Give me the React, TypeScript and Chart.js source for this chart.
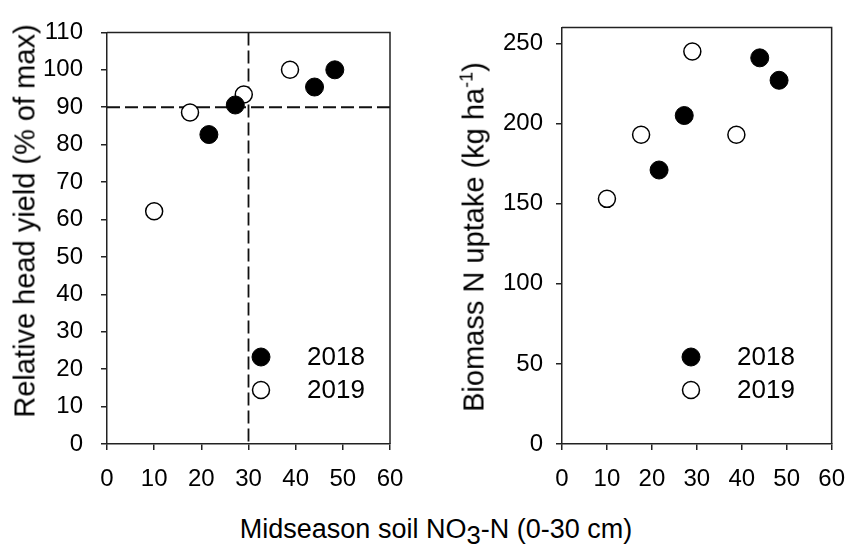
import React, { useEffect, useRef } from "react";
import { Chart, registerables } from "chart.js";

Chart.register(...registerables);

// ---- data ----
const years = ["2018", "2019"];
const soilN2018 = [21.6, 27.2, 44.0, 48.3];
const yield2018 = [82.7, 90.6, 95.4, 100];
const uptake2018 = [171, 205, 241, 227];
const soilN2019 = [10.0, 17.6, 29.0, 38.8];
const yield2019 = [62.2, 88.6, 93.4, 100];
const uptake2019 = [153, 193, 245, 193];

const xTicks = [0, 10, 20, 30, 40, 50, 60];
const yieldTicks = [0, 10, 20, 30, 40, 50, 60, 70, 80, 90, 100, 110];
const uptakeTicks = [0, 50, 100, 150, 200, 250];
const yieldThresholdX = 30;
const yieldThresholdY = 90;

const FONT = "'Liberation Sans', Arial, Helvetica, sans-serif";
const AXIS = "#222";

Chart.defaults.font.family = FONT;
Chart.defaults.color = "#000";

const toPoints = (xs: number[], ys: number[]) => xs.map((x, i) => ({ x, y: ys[i] }));

const extras = {
  id: "extras",
  beforeDatasetsDraw(chart: any, _args: any, opts: any) {
    const { ctx, chartArea: a, scales } = chart;
    ctx.save();
    ctx.strokeStyle = "#111";
    ctx.lineWidth = 1.8;
    ctx.setLineDash([13, 5]);
    if (opts.refX != null) {
      const px = scales.x.getPixelForValue(opts.refX);
      ctx.beginPath();
      ctx.moveTo(px, a.top);
      ctx.lineTo(px, a.bottom);
      ctx.stroke();
    }
    if (opts.refY != null) {
      const py = scales.y.getPixelForValue(opts.refY);
      ctx.beginPath();
      ctx.moveTo(a.left, py);
      ctx.lineTo(a.right, py);
      ctx.stroke();
    }
    ctx.setLineDash([]);
    ctx.strokeStyle = AXIS;
    ctx.lineWidth = 1.5;
    ctx.beginPath();
    ctx.moveTo(a.left, a.top);
    ctx.lineTo(a.right, a.top);
    ctx.lineTo(a.right, a.bottom);
    ctx.stroke();
    ctx.restore();
  },
  afterDraw(chart: any, _args: any, opts: any) {
    const { ctx, chartArea: a } = chart;
    ctx.save();
    const cx = a.left + opts.legendDx;
    const rows = [a.bottom - 87, a.bottom - 54];
    chart.data.datasets.forEach((ds: any, i: number) => {
      const cy = rows[i];
      ctx.beginPath();
      ctx.arc(cx, cy, ds.pointRadius, 0, Math.PI * 2);
      ctx.fillStyle = ds.backgroundColor;
      ctx.fill();
      ctx.lineWidth = ds.borderWidth;
      ctx.strokeStyle = ds.borderColor;
      ctx.stroke();
      ctx.fillStyle = "#000";
      ctx.font = `26px ${FONT}`;
      ctx.textBaseline = "middle";
      ctx.textAlign = "left";
      ctx.fillText(ds.label, cx + 46, cy + 1);
    });
    ctx.restore();
  },
};

function makeConfig(
  y2018: number[],
  y2019: number[],
  yTicks: number[],
  yMax: number,
  yAxisWidth: number,
  yPad: number,
  rightPad: number,
  legendDx: number,
  refX: number | null,
  refY: number | null
): any {
  const tickFont = { size: 24, family: FONT };
  return {
    type: "scatter",
    data: {
      datasets: [
        {
          label: years[0],
          data: toPoints(soilN2018, y2018),
          backgroundColor: "#000",
          borderColor: "#000",
          borderWidth: 1,
          pointRadius: 9,
          pointHoverRadius: 9,
        },
        {
          label: years[1],
          data: toPoints(soilN2019, y2019),
          backgroundColor: "#fff",
          borderColor: "#000",
          borderWidth: 1.5,
          pointRadius: 8.5,
          pointHoverRadius: 8.5,
        },
      ],
    },
    options: {
      animation: false,
      responsive: false,
      events: [],
      layout: { padding: { left: 0, top: 20, right: rightPad, bottom: 0 } },
      plugins: {
        legend: { display: false },
        tooltip: { enabled: false },
        extras: { legendDx, refX, refY },
      },
      scales: {
        x: {
          type: "linear",
          min: 0,
          max: 60,
          afterBuildTicks: (s: any) => {
            s.ticks = xTicks.map((v) => ({ value: v }));
          },
          afterFit: (s: any) => {
            s.height = 66;
          },
          ticks: { font: tickFont, color: "#000", padding: 15, maxRotation: 0 },
          grid: { drawOnChartArea: false, drawTicks: true, tickLength: 6, color: AXIS, lineWidth: 1.5 },
          border: { display: true, color: AXIS, width: 1.5 },
        },
        y: {
          type: "linear",
          min: 0,
          max: yMax,
          afterBuildTicks: (s: any) => {
            s.ticks = yTicks.map((v) => ({ value: v }));
          },
          afterFit: (s: any) => {
            s.width = yAxisWidth;
          },
          ticks: { font: tickFont, color: "#000", padding: yPad },
          grid: { drawOnChartArea: false, drawTicks: true, tickLength: 6, color: AXIS, lineWidth: 1.5 },
          border: { display: true, color: AXIS, width: 1.5 },
        },
      },
    },
    plugins: [extras],
  };
}

export default function App() {
  const leftRef = useRef<HTMLCanvasElement>(null);
  const rightRef = useRef<HTMLCanvasElement>(null);

  useEffect(() => {
    const c1 = new Chart(
      leftRef.current as HTMLCanvasElement,
      makeConfig(yield2018, yield2019, yieldTicks, 110, 107, 18, 40, 154, yieldThresholdX, yieldThresholdY)
    );
    const c2 = new Chart(
      rightRef.current as HTMLCanvasElement,
      makeConfig(uptake2018, uptake2019, uptakeTicks, 260, 122, 13, 17, 129, null, null)
    );
    return () => {
      c1.destroy();
      c2.destroy();
    };
  }, []);

  const titleBase: React.CSSProperties = {
    position: "absolute",
    fontFamily: FONT,
    color: "#000",
    whiteSpace: "nowrap",
    lineHeight: 1,
  };

  return (
    <div
      style={{
        position: "fixed",
        left: 0,
        top: 0,
        width: 860,
        height: 550,
        background: "#fff",
        overflow: "hidden",
      }}
    >
      <canvas
        ref={leftRef}
        width={430}
        height={510}
        style={{ position: "absolute", left: 0, top: 0, width: 430, height: 510, display: "block" }}
      />
      <canvas
        ref={rightRef}
        width={420}
        height={510}
        style={{ position: "absolute", left: 440, top: 0, width: 420, height: 510, display: "block" }}
      />
      <div
        style={{
          ...titleBase,
          fontSize: 29,
          left: 25,
          top: 221,
          transform: "translate(-50%, -50%) rotate(-90deg)",
        }}
      >
        Relative head yield (% of max)
      </div>
      <div
        style={{
          ...titleBase,
          fontSize: 29,
          left: 474,
          top: 237,
          transform: "translate(-50%, -50%) rotate(-90deg)",
        }}
      >
        Biomass N uptake (kg ha
        <span style={{ fontSize: "0.62em", position: "relative", top: "-0.6em", lineHeight: 0 }}>-1</span>)
      </div>
      <div
        style={{
          ...titleBase,
          fontSize: 27,
          left: 436,
          top: 529,
          transform: "translate(-50%, -50%)",
        }}
      >
        Midseason soil NO
        <span style={{ fontSize: "0.95em", position: "relative", top: "0.25em", lineHeight: 0 }}>3</span>-N (0-30 cm)
      </div>
    </div>
  );
}
